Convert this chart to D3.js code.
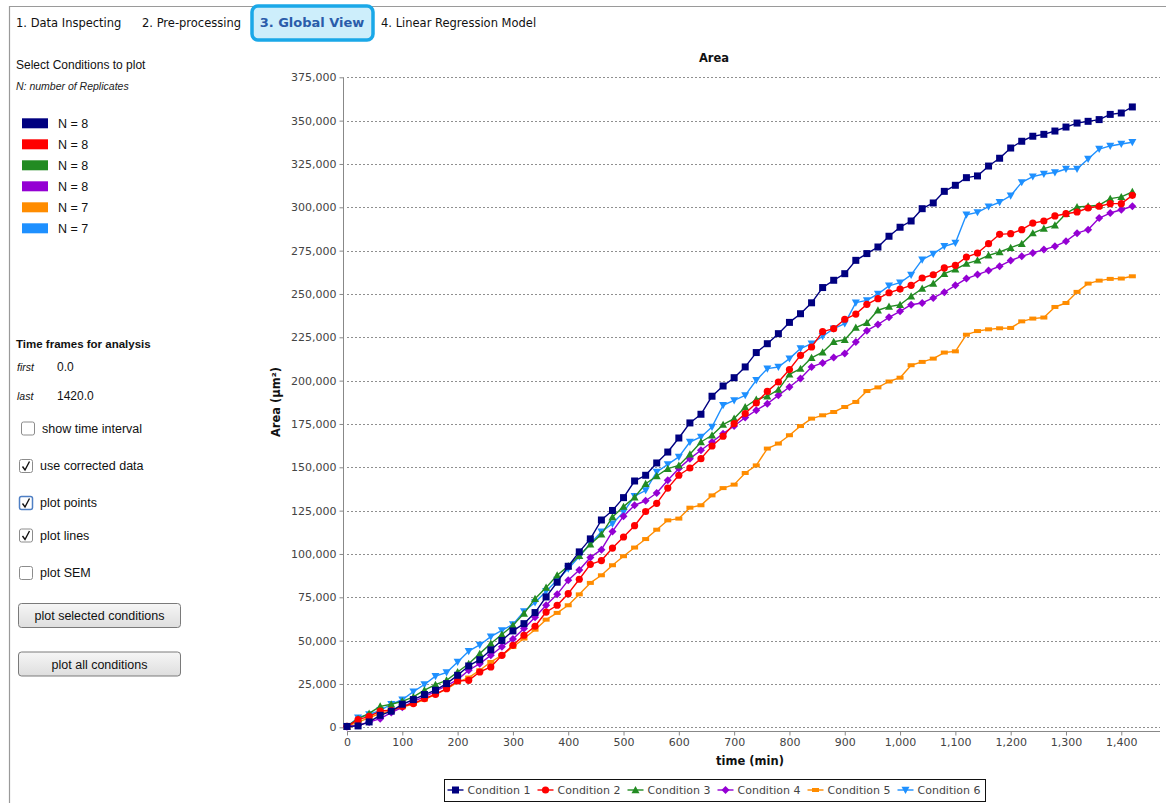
<!DOCTYPE html>
<html>
<head>
<meta charset="utf-8">
<script src="https://cdn.jsdelivr.net/npm/d3@7"></script>
<style>
  body { margin: 0; background: #fff; overflow: hidden; }
  svg { display: block; }
</style>
</head>
<body>
<svg id="app" width="1166" height="803"></svg>
<script>
// ---- data: mean area per time frame (min) for each condition ----
const times = [
  0, 20, 40, 60, 80, 100, 120, 140,
  160, 180, 200, 220, 240, 260, 280, 300,
  320, 340, 360, 380, 400, 420, 440, 460,
  480, 500, 520, 540, 560, 580, 600, 620,
  640, 660, 680, 700, 720, 740, 760, 780,
  800, 820, 840, 860, 880, 900, 920, 940,
  960, 980, 1000, 1020, 1040, 1060, 1080, 1100,
  1120, 1140, 1160, 1180, 1200, 1220, 1240, 1260,
  1280, 1300, 1320, 1340, 1360, 1380, 1400, 1420
];
const condition1 = [
  500, 800, 3100, 6900, 9300, 13300, 16000, 18900,
  21400, 25200, 30000, 35400, 39000, 44700, 50100, 55600,
  59800, 66200, 75200, 83700, 92900, 101200, 108700, 119600,
  125100, 132500, 142100, 145400, 152500, 158800, 166900, 175600,
  180600, 191000, 196900, 201700, 207900, 216200, 221300, 227100,
  233600, 238600, 244900, 253700, 257900, 261700, 269400, 273300,
  277100, 283300, 288500, 292100, 299200, 302500, 309200, 312700,
  317100, 318100, 323800, 328300, 334200, 338100, 341000, 342100,
  344000, 346300, 348600, 349600, 350600, 353600, 354400, 357900
];
const condition2 = [
  500, 4400, 6300, 9400, 9800, 12100, 13700, 16600,
  19000, 22300, 26700, 27100, 31900, 34800, 41500, 47300,
  53100, 58300, 66500, 70400, 77100, 85400, 94000, 96200,
  103400, 109800, 116300, 124500, 129200, 138000, 145400, 149600,
  155000, 162300, 167900, 175200, 181000, 187100, 193800, 199200,
  206400, 214600, 219400, 228300, 230000, 235400, 238400, 244000,
  247300, 250700, 252800, 255000, 259200, 261100, 265000, 266500,
  271300, 273600, 279000, 284400, 284800, 287100, 290900, 292100,
  295000, 296300, 297300, 299600, 300600, 302100, 302100, 306900
];
const condition3 = [
  500, 5000, 8000, 12100, 13300, 15000, 17500, 21400,
  24600, 27100, 31900, 36700, 42500, 48300, 53500, 58800,
  65600, 74200, 80600, 87700, 93000, 99000, 105600, 111300,
  121300, 127300, 132700, 140500, 145000, 149200, 151100, 157500,
  164600, 168500, 174600, 178100, 184800, 189100, 191000, 194800,
  203600, 206900, 213200, 216400, 222400, 223600, 230600, 233400,
  240600, 242700, 243800, 248700, 253100, 256000, 261700, 264200,
  267500, 269400, 272300, 274200, 276700, 279000, 285100, 287700,
  289600, 296300, 300200, 300600, 301200, 305000, 306000, 308900
];
const condition4 = [
  300, 1200, 3000, 5000, 8500, 11500, 15000, 17500,
  20800, 24000, 27500, 32900, 36700, 41500, 46500, 51000,
  57000, 63500, 70400, 76700, 84800, 90800, 98000, 102500,
  113000, 121800, 128100, 130700, 135200, 142500, 149300, 155000,
  159800, 164600, 169400, 173800, 178700, 182900, 186700, 191500,
  196300, 201200, 207900, 210200, 213300, 215600, 222300, 228800,
  232400, 236500, 240000, 243800, 244800, 247700, 251000, 255000,
  258900, 261200, 263500, 266000, 269300, 271700, 273700, 275600,
  277500, 280400, 285100, 287100, 293800, 296700, 298600, 300600
];
const condition5 = [
  500, 3000, 5500, 8000, 9500, 11500, 13500, 16000,
  19000, 22000, 26100, 28700, 32900, 37700, 41500, 46300,
  51200, 56300, 62100, 66000, 70400, 76700, 83300, 87700,
  93500, 98700, 103700, 108600, 114000, 119400, 120400, 126700,
  128100, 133800, 138000, 140000, 146700, 151100, 160800, 163700,
  168500, 173800, 178100, 180000, 181900, 184800, 187700, 194000,
  196100, 199500, 201700, 208900, 210800, 212700, 216200, 216900,
  226500, 228600, 229600, 230200, 230400, 234200, 235800, 236400,
  242500, 244800, 251200, 256000, 257700, 258700, 258900, 260200
];
const condition6 = [
  500, 5500, 7400, 9800, 13300, 15900, 20600, 24700,
  29500, 31600, 37700, 43900, 47500, 52300, 55900, 59400,
  66900, 72000, 78500, 85000, 91500, 98500, 106000, 112800,
  117500, 124200, 133300, 136700, 147300, 151700, 156000, 164600,
  167500, 173300, 185800, 188600, 191500, 200200, 206900, 207900,
  212700, 218500, 221300, 225600, 230000, 232900, 245000, 246300,
  250000, 254700, 256500, 261000, 269800, 273100, 277500, 279400,
  295700, 297100, 300400, 302900, 306700, 314400, 317700, 319200,
  320100, 322100, 322100, 327900, 333600, 335400, 336500, 337500
];

const conditionNames = ["Condition 1", "Condition 2", "Condition 3", "Condition 4", "Condition 5", "Condition 6"];
const replicateLabels = ["N = 8", "N = 8", "N = 8", "N = 8", "N = 7", "N = 7"];
const colors = ["#000080", "#ff0000", "#228b22", "#9400d3", "#ff8c00", "#1e90ff"];
const shapes = ["square", "circle", "triUp", "diamond", "hrect", "triDown"];
const seriesValues = [condition1, condition2, condition3, condition4, condition5, condition6];

const xTicks = [0, 100, 200, 300, 400, 500, 600, 700, 800, 900, 1000, 1100, 1200, 1300, 1400];
const yTicks = [0, 25000, 50000, 75000, 100000, 125000, 150000, 175000, 200000, 225000,
                250000, 275000, 300000, 325000, 350000, 375000];

const tabLabels = ["1. Data Inspecting", "2. Pre-processing", "3. Global View", "4. Linear Regression Model"];

// ---- page ----
const svg = d3.select("#app");
const UI = "'Liberation Sans', Arial, sans-serif";
const TAHO = "'DejaVu Sans', Verdana, sans-serif";

// outer frame
svg.append("path")
  .attr("d", "M9.5,803 V6.5 H1166")
  .attr("fill", "none").attr("stroke", "#9a9a9a").attr("stroke-width", 1.2);

// tabs
const tabX = [16, 142, 312, 381];
svg.append("rect").attr("x", 252).attr("y", 6).attr("width", 121).attr("height", 34)
  .attr("rx", 6).attr("fill", "#cdeefb").attr("stroke", "#1aa8e8").attr("stroke-width", 3.5);
tabLabels.forEach((t, i) => {
  const sel = i === 2;
  svg.append("text").attr("x", tabX[i]).attr("y", 27)
    .attr("text-anchor", sel ? "middle" : "start")
    .attr("font-family", TAHO).attr("font-size", sel ? 13 : 11.5)
    .attr("font-weight", sel ? "bold" : "normal")
    .attr("fill", sel ? "#2a5caa" : "#111").text(t);
});

// ---- left control panel ----
const panel = svg.append("g");
panel.append("text").attr("x", 16).attr("y", 69).attr("font-family", UI).attr("font-size", 12)
  .attr("fill", "#111").text("Select Conditions to plot");
panel.append("text").attr("x", 16).attr("y", 90).attr("font-family", UI).attr("font-size", 10.5)
  .attr("font-style", "italic").attr("fill", "#222").text("N: number of Replicates");

const swatchY = d3.scalePoint().domain(d3.range(6)).range([123.3, 228.3]);
replicateLabels.forEach((lab, i) => {
  panel.append("rect").attr("x", 22).attr("y", swatchY(i) - 5).attr("width", 26).attr("height", 10)
    .attr("fill", colors[i]);
  panel.append("text").attr("x", 58).attr("y", swatchY(i) + 4.5).attr("font-family", UI)
    .attr("font-size", 12.5).attr("fill", "#111").text(lab);
});

panel.append("text").attr("x", 16).attr("y", 348).attr("font-family", UI).attr("font-size", 11.5)
  .attr("font-weight", "bold").attr("fill", "#111").text("Time frames for analysis");
panel.append("text").attr("x", 17).attr("y", 371).attr("font-family", UI).attr("font-size", 10.5)
  .attr("font-style", "italic").attr("fill", "#111").text("first");
panel.append("text").attr("x", 57).attr("y", 371).attr("font-family", UI).attr("font-size", 12)
  .attr("fill", "#111").text("0.0");
panel.append("text").attr("x", 17).attr("y", 400).attr("font-family", UI).attr("font-size", 10.5)
  .attr("font-style", "italic").attr("fill", "#111").text("last");
panel.append("text").attr("x", 57).attr("y", 400).attr("font-family", UI).attr("font-size", 12)
  .attr("fill", "#111").text("1420.0");

const checks = [
  { label: "show time interval", x: 21, y: 421.5, tx: 42, on: false, focus: false },
  { label: "use corrected data", x: 19, y: 459, tx: 40, on: true, focus: false },
  { label: "plot points", x: 19, y: 496, tx: 40, on: true, focus: true },
  { label: "plot lines", x: 19, y: 528.5, tx: 40, on: true, focus: false },
  { label: "plot SEM", x: 19, y: 566, tx: 40, on: false, focus: false }
];
checks.forEach(c => {
  panel.append("rect").attr("x", c.x + 0.5).attr("y", c.y + 0.5).attr("width", 13).attr("height", 13)
    .attr("rx", 2).attr("fill", "#fff")
    .attr("stroke", c.focus ? "#4f7fc4" : "#8c8c8c").attr("stroke-width", c.focus ? 1.5 : 1);
  if (c.on) {
    panel.append("path")
      .attr("d", `M${c.x + 3.5},${c.y + 7.5} L${c.x + 6},${c.y + 11} L${c.x + 10.5},${c.y + 2.5}`)
      .attr("fill", "none").attr("stroke", "#111").attr("stroke-width", 1.4);
  }
  panel.append("text").attr("x", c.tx).attr("y", c.y + 11).attr("font-family", UI)
    .attr("font-size", 12.5).attr("fill", "#111").text(c.label);
});

const grad = svg.append("defs").append("linearGradient").attr("id", "btn")
  .attr("x1", 0).attr("y1", 0).attr("x2", 0).attr("y2", 1);
grad.append("stop").attr("offset", "0%").attr("stop-color", "#f6f6f6");
grad.append("stop").attr("offset", "100%").attr("stop-color", "#dedede");
[{ label: "plot selected conditions", y: 603.5 }, { label: "plot all conditions", y: 652 }].forEach(b => {
  panel.append("rect").attr("x", 18.5).attr("y", b.y).attr("width", 162).attr("height", 24)
    .attr("rx", 3).attr("fill", "url(#btn)").attr("stroke", "#7a7a7a");
  panel.append("text").attr("x", 99.5).attr("y", b.y + 16.5).attr("text-anchor", "middle")
    .attr("font-family", UI).attr("font-size", 12.5).attr("fill", "#111").text(b.label);
});

// ---- chart ----
const x = d3.scaleLinear().domain([0, 1470]).range([347, 1160]);
const y = d3.scaleLinear().domain([0, 375000]).range([727.3, 77.3]);
const chart = svg.append("g");

chart.append("text").attr("x", 714).attr("y", 62).attr("text-anchor", "middle")
  .attr("font-family", TAHO).attr("font-size", 11.5).attr("font-weight", "bold").attr("fill", "#111")
  .text("Area");

// horizontal dotted grid
chart.append("g").selectAll("line").data(yTicks).join("line")
  .attr("x1", 347).attr("x2", 1160)
  .attr("y1", d => Math.round(y(d)) + 0.5).attr("y2", d => Math.round(y(d)) + 0.5)
  .attr("stroke", "#8f8f8f").attr("stroke-width", 1).attr("stroke-dasharray", "2,2");

const fmt = d3.format(",");
const yAxis = chart.append("g").attr("transform", "translate(343.5,0)")
  .call(d3.axisLeft(y).tickValues(yTicks).tickFormat(fmt).tickSize(4).tickPadding(3));
const xAxis = chart.append("g").attr("transform", "translate(0,731.5)")
  .call(d3.axisBottom(x).tickValues(xTicks).tickFormat(fmt).tickSize(4).tickPadding(3));
[yAxis, xAxis].forEach(a => {
  a.select(".domain").attr("stroke", "#888");
  a.selectAll(".tick line").attr("stroke", "#888");
  a.selectAll(".tick text").attr("font-family", TAHO).attr("font-size", 11).attr("fill", "#444");
});
yAxis.select(".domain").attr("d", `M0,${y(375000)}V${y(0)}`);
xAxis.select(".domain").attr("d", `M${x(0)},0H1160`);

chart.append("text").attr("x", 750).attr("y", 765).attr("text-anchor", "middle")
  .attr("font-family", TAHO).attr("font-size", 11.5).attr("font-weight", "bold").attr("fill", "#111")
  .text("time (min)");
chart.append("text").attr("transform", "translate(280,402) rotate(-90)").attr("text-anchor", "middle")
  .attr("font-family", TAHO).attr("font-size", 11.5).attr("font-weight", "bold").attr("fill", "#111")
  .text("Area (µm²)");

// marker outlines, centred on (0,0)
function shapePath(kind) {
  switch (kind) {
    case "square": return "M-3.5,-3.5H3.5V3.5H-3.5Z";
    case "circle": return "M-3.6,0A3.6,3.6 0 1,0 3.6,0A3.6,3.6 0 1,0 -3.6,0Z";
    case "triUp": return "M0,-4L4,3.2H-4Z";
    case "diamond": return "M0,-4L4,0L0,4L-4,0Z";
    case "hrect": return "M-3.5,-2H3.5V2H-3.5Z";
    case "triDown": return "M0,4L4,-3.2H-4Z";
  }
}

const line = d3.line().x(d => x(d[0])).y(d => y(d[1]));
// series drawn last-to-first so Condition 1 sits on top
for (let s = 5; s >= 0; s--) {
  const pts = times.map((t, i) => [t, seriesValues[s][i]]);
  const g = chart.append("g");
  g.append("path").datum(pts).attr("d", line).attr("fill", "none")
    .attr("stroke", colors[s]).attr("stroke-width", 1.4).attr("stroke-linejoin", "round");
  g.selectAll("path.m").data(pts).join("path").attr("class", "m")
    .attr("transform", d => `translate(${x(d[0])},${y(d[1])})`)
    .attr("d", shapePath(shapes[s])).attr("fill", colors[s]);
}

// ---- legend ----
const leg = svg.append("g");
const items = [];
let cursor = 0;
conditionNames.forEach((name, i) => {
  const g = leg.append("g");
  g.append("line").attr("x1", 0).attr("x2", 16).attr("y1", 0).attr("y2", 0)
    .attr("stroke", colors[i]).attr("stroke-width", 1.4);
  g.append("path").attr("transform", "translate(8,0)").attr("d", shapePath(shapes[i])).attr("fill", colors[i]);
  const t = g.append("text").attr("x", 20).attr("y", 4).attr("font-family", TAHO).attr("font-size", 11)
    .attr("fill", "#444").text(name);
  const w = 20 + t.node().getComputedTextLength();
  items.push({ g, off: cursor });
  cursor += w + 7;
});
const legW = cursor - 7;
const legX0 = 714 - legW / 2;
items.forEach(it => it.g.attr("transform", `translate(${legX0 + it.off},790)`));
leg.append("rect").attr("x", Math.round(legX0 - 4) + 0.5).attr("y", 779.5)
  .attr("width", Math.round(legW + 8)).attr("height", 22)
  .attr("fill", "none").attr("stroke", "#111").attr("stroke-width", 1);
</script>
</body>
</html>
